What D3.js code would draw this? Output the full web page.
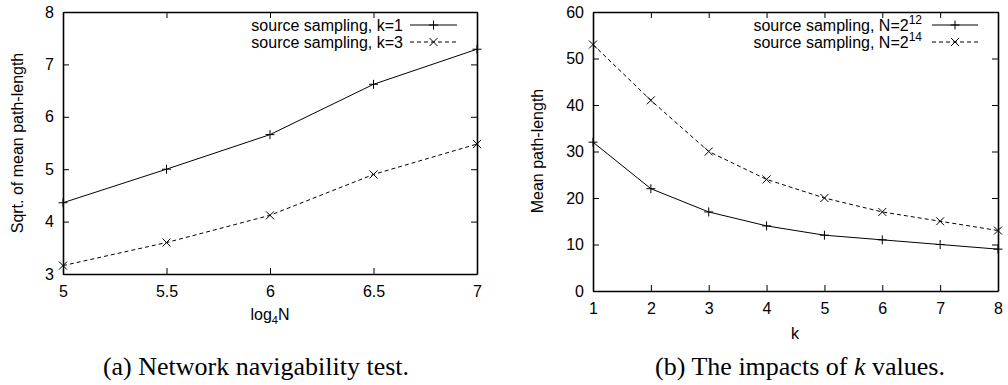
<!DOCTYPE html>
<html>
<head>
<meta charset="utf-8">
<script src="https://cdn.jsdelivr.net/npm/d3@7"></script>
<style>
  html, body { margin: 0; padding: 0; background: #fff; }
  svg { display: block; }
  .sans { font-family: "Liberation Sans", Arial, Helvetica, sans-serif; font-size: 16px; fill: #000; }
  .serif { font-family: "Liberation Serif", "Times New Roman", serif; font-size: 26px; fill: #000; }
</style>
</head>
<body>
<svg id="fig" width="1008" height="385"></svg>
<script>
// Panel (a): square root of mean path length versus log4 N
const logN = [5, 5.5, 6, 6.5, 7];
const sqrtPathK1 = [4.36, 5.0, 5.66, 6.62, 7.29];
const sqrtPathK3 = [3.16, 3.6, 4.12, 4.9, 5.48];
const aXTicks = [5, 5.5, 6, 6.5, 7];
const aYTicks = [3, 4, 5, 6, 7, 8];

// Panel (b): mean path length versus k
const kValues = [1, 2, 3, 4, 5, 6, 7, 8];
const pathN12 = [32, 22, 17, 14, 12, 11, 10, 9];
const pathN14 = [53, 41, 30, 24, 20, 17, 15, 13];
const bXTicks = [1, 2, 3, 4, 5, 6, 7, 8];
const bYTicks = [0, 10, 20, 30, 40, 50, 60];

const svg = d3.select("#fig");
const TICK = 6;

function drawPlusMarks(g, pts) {
  const s = 4.5;
  g.selectAll(null).data(pts).join("path")
    .attr("d", d => `M${d[0]-s},${d[1]}H${d[0]+s}M${d[0]},${d[1]-s}V${d[1]+s}`)
    .attr("stroke", "#000").attr("stroke-width", 1).attr("fill", "none");
}
function drawCrossMarks(g, pts) {
  const s = 4;
  g.selectAll(null).data(pts).join("path")
    .attr("d", d => `M${d[0]-s},${d[1]-s}L${d[0]+s},${d[1]+s}M${d[0]-s},${d[1]+s}L${d[0]+s},${d[1]-s}`)
    .attr("stroke", "#000").attr("stroke-width", 1).attr("fill", "none");
}

function panel(opts) {
  const { x, y, xTicks, yTicks, xFmt, series } = opts;
  const g = svg.append("g");
  const [x0, x1] = x.range();
  const [y0, y1] = y.range();

  const axes = [
    { ax: d3.axisBottom(x).tickValues(xTicks).tickFormat(xFmt), tr: `translate(0,${y0})`, pad: 12 },
    { ax: d3.axisTop(x).tickValues(xTicks).tickFormat(""), tr: `translate(0,${y1})` },
    { ax: d3.axisLeft(y).tickValues(yTicks).tickFormat(d3.format("d")), tr: `translate(${x0},0)`, pad: 9 },
    { ax: d3.axisRight(y).tickValues(yTicks).tickFormat(""), tr: `translate(${x1},0)` }
  ];
  axes.forEach(a => {
    a.ax.tickSizeInner(-TICK).tickSizeOuter(0).tickPadding(a.pad || 0);
    const ag = g.append("g").attr("transform", a.tr).call(a.ax);
    ag.select(".domain").attr("stroke", "#000").attr("stroke-width", 1.6);
    ag.selectAll(".tick line").attr("stroke", "#000").attr("stroke-width", 1);
    ag.selectAll(".tick text").attr("class", "sans");
    ag.attr("font-family", null).attr("font-size", null);
  });

  const line = d3.line().x(d => x(d[0])).y(d => y(d[1]));
  series.forEach(s => {
    const pts = s.xs.map((v, i) => [v, s.ys[i]]);
    g.append("path").datum(pts).attr("d", line)
      .attr("fill", "none").attr("stroke", "#000").attr("stroke-width", 1)
      .attr("stroke-dasharray", s.dashed ? "4,3" : null);
    const px = pts.map(p => [x(p[0]), y(p[1])]);
    (s.mark === "plus" ? drawPlusMarks : drawCrossMarks)(g.append("g"), px);
  });
  return g;
}

function legendSample(g, yRow, lineX0, lineX1, dashed, mark) {
  g.append("line").attr("x1", lineX0).attr("x2", lineX1).attr("y1", yRow).attr("y2", yRow)
    .attr("stroke", "#000").attr("stroke-width", 1).attr("stroke-dasharray", dashed ? "4,3" : null);
  const cx = (lineX0 + lineX1) / 2;
  (mark === "plus" ? drawPlusMarks : drawCrossMarks)(g.append("g"), [[cx, yRow]]);
}

// ---------- panel (a)
const xa = d3.scaleLinear().domain([5, 7]).range([63, 477]);
const ya = d3.scaleLinear().domain([3, 8]).range([274, 12]);
const ga = panel({
  x: xa, y: ya, xTicks: aXTicks, yTicks: aYTicks, xFmt: d => String(d),
  series: [
    { xs: logN, ys: sqrtPathK1, dashed: false, mark: "plus" },
    { xs: logN, ys: sqrtPathK3, dashed: true, mark: "cross" }
  ]
});
ga.append("text").attr("class", "sans").attr("text-anchor", "end")
  .attr("x", 403).attr("y", 31).text("source sampling, k=1");
ga.append("text").attr("class", "sans").attr("text-anchor", "end")
  .attr("x", 403).attr("y", 48).text("source sampling, k=3");
legendSample(ga, 25, 410, 457, false, "plus");
legendSample(ga, 42, 410, 457, true, "cross");

const xla = ga.append("text").attr("class", "sans").attr("text-anchor", "middle")
  .attr("x", 270).attr("y", 320);
xla.append("tspan").text("log");
xla.append("tspan").attr("font-size", "11px").attr("dy", 4).text("4");
xla.append("tspan").attr("dy", -4).text("N");

ga.append("text").attr("class", "sans").attr("text-anchor", "middle")
  .attr("transform", "translate(23,143) rotate(-90)").text("Sqrt. of mean path-length");

svg.append("text").attr("class", "serif").attr("text-anchor", "middle")
  .attr("x", 256).attr("y", 375).text("(a) Network navigability test.");

// ---------- panel (b)
const xb = d3.scaleLinear().domain([1, 8]).range([593, 998]);
const yb = d3.scaleLinear().domain([0, 60]).range([291, 12]);
const gb = panel({
  x: xb, y: yb, xTicks: bXTicks, yTicks: bYTicks, xFmt: d3.format("d"),
  series: [
    { xs: kValues, ys: pathN12, dashed: false, mark: "plus" },
    { xs: kValues, ys: pathN14, dashed: true, mark: "cross" }
  ]
});
[["12", 31, 25, false, "plus"], ["14", 48, 42, true, "cross"]].forEach(r => {
  const t = gb.append("text").attr("class", "sans").attr("text-anchor", "end")
    .attr("x", 922).attr("y", r[1]);
  t.append("tspan").text("source sampling, N=2");
  t.append("tspan").attr("font-size", "12px").attr("dy", -7).text(r[0]);
  legendSample(gb, r[2], 932, 978, r[3], r[4]);
});

gb.append("text").attr("class", "sans").attr("text-anchor", "middle")
  .attr("x", 795).attr("y", 339).text("k");
gb.append("text").attr("class", "sans").attr("text-anchor", "middle")
  .attr("transform", "translate(543,151) rotate(-90)").text("Mean path-length");

const cb = svg.append("text").attr("class", "serif").attr("text-anchor", "middle")
  .attr("x", 800).attr("y", 375);
cb.append("tspan").text("(b) The impacts of ");
cb.append("tspan").attr("font-style", "italic").text("k");
cb.append("tspan").text(" values.");
</script>
</body>
</html>
